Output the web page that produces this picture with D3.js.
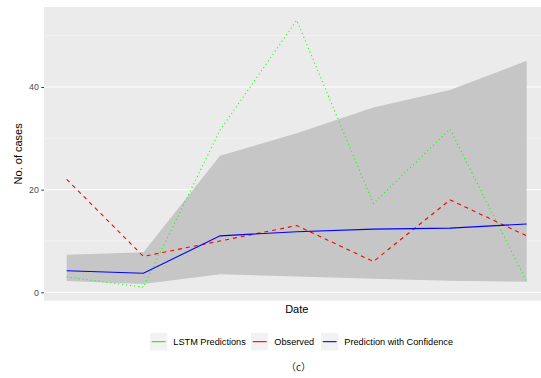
<!DOCTYPE html>
<html>
<head>
<meta charset="utf-8">
<script src="https://cdn.jsdelivr.net/npm/d3@7"></script>
<style>
  body { margin: 0; background: #fff; }
  svg { display: block; font-family: "Liberation Sans", Arial, sans-serif; }
</style>
</head>
<body>
<svg id="chart" width="541" height="378"></svg>
<script>
// data (7 time steps, dates not labelled)
var steps = [1, 2, 3, 4, 5, 6, 7];
var observed = [22, 7, 10, 13, 6, 18, 11];
var lstm = [3, 1, 31.6, 53, 17.3, 31.8, 2.1];
var predicted = [4.2, 3.7, 11, 11.8, 12.3, 12.5, 13.3];
var upper = [7.3, 7.8, 26.6, 31, 36, 39.4, 45.1];
var lower = [2.2, 1.6, 3.5, 3.1, 2.65, 2.26, 2.07];
var yTicks = [0, 20, 40];
var yMinor = [10, 30, 50];

var svg = d3.select("#chart");

// panel box
var panel = { left: 44, right: 549.7, top: 7, bottom: 300.7 };

var x = d3.scaleLinear().domain([1, 7]).range([66.7, 526.7]);
var y = d3.scaleLinear().domain([0, 10]).range([292.3, 240.97]);

svg.append("rect")
  .attr("x", panel.left)
  .attr("y", panel.top)
  .attr("width", panel.right - panel.left)
  .attr("height", panel.bottom - panel.top)
  .attr("fill", "#ebebeb");

// grid lines
svg.selectAll("line.minor").data(yMinor).enter().append("line")
  .attr("class", "minor")
  .attr("x1", panel.left).attr("x2", panel.right)
  .attr("y1", function (d) { return y(d); })
  .attr("y2", function (d) { return y(d); })
  .attr("stroke", "#f7f7f7").attr("stroke-width", 0.6);
svg.selectAll("line.major").data(yTicks).enter().append("line")
  .attr("class", "major")
  .attr("x1", panel.left).attr("x2", panel.right)
  .attr("y1", function (d) { return y(d); })
  .attr("y2", function (d) { return y(d); })
  .attr("stroke", "#ffffff").attr("stroke-width", 1.1);

// confidence ribbon
var band = d3.area()
  .x(function (d, i) { return x(steps[i]); })
  .y0(function (d, i) { return y(lower[i]); })
  .y1(function (d, i) { return y(upper[i]); });
svg.append("path")
  .datum(steps)
  .attr("d", band)
  .attr("fill", "#c6c6c6");

var line = d3.line()
  .x(function (d, i) { return x(steps[i]); })
  .y(function (d) { return y(d); });

svg.append("path").datum(lstm).attr("d", line)
  .attr("fill", "none").attr("stroke", "#00ff00")
  .attr("stroke-width", 1.1).attr("stroke-dasharray", "1,3");
svg.append("path").datum(observed).attr("d", line)
  .attr("fill", "none").attr("stroke", "#ff0000")
  .attr("stroke-width", 1.1).attr("stroke-dasharray", "4,4");
svg.append("path").datum(predicted).attr("d", line)
  .attr("fill", "none").attr("stroke", "#0000ff")
  .attr("stroke-width", 1.1);

// y axis
var yAxis = svg.append("g")
  .attr("transform", "translate(" + panel.left + ",0)")
  .call(d3.axisLeft(y).tickValues(yTicks).tickSize(2.7).tickPadding(2.5));
yAxis.select(".domain").remove();
yAxis.selectAll(".tick line").attr("stroke", "#333333").attr("stroke-width", 1);
yAxis.selectAll(".tick text")
  .attr("fill", "#4d4d4d")
  .style("font-size", "8.8px")
  .style("font-family", "Liberation Sans, Arial, sans-serif");

svg.append("text")
  .attr("transform", "translate(22," + ((panel.top + panel.bottom) / 2) + ") rotate(-90)")
  .attr("text-anchor", "middle")
  .style("font-size", "11px")
  .text("No. of cases");

svg.append("text")
  .attr("x", 296.8).attr("y", 313)
  .attr("text-anchor", "middle")
  .style("font-size", "11px")
  .text("Date");

// legend
var legendItems = [
  { label: "LSTM Predictions", color: "#00ff00", kx: 150 },
  { label: "Observed", color: "#ff0000", kx: 251 },
  { label: "Prediction with Confidence", color: "#0000ff", kx: 321 }
];
var lg = svg.selectAll("g.legend").data(legendItems).enter().append("g")
  .attr("class", "legend")
  .attr("transform", function (d) { return "translate(" + d.kx + ",333)"; });
lg.append("rect")
  .attr("width", 17.3).attr("height", 17.3)
  .attr("fill", "#f2f2f2");
lg.append("line")
  .attr("x1", 1.7).attr("x2", 15.6)
  .attr("y1", 8.65).attr("y2", 8.65)
  .attr("stroke", function (d) { return d.color; })
  .attr("stroke-width", 1.1);
lg.append("text")
  .attr("x", 23.3).attr("y", 12)
  .style("font-size", "9.2px")
  .attr("fill", "#000")
  .text(function (d) { return d.label; });

svg.append("text")
  .attr("x", 298.5).attr("y", 370.5)
  .attr("text-anchor", "middle")
  .style("font-size", "10px")
  .style("font-family", "Noto Sans CJK SC, sans-serif")
  .attr("fill", "#222")
  .text("（c）");
</script>
</body>
</html>
